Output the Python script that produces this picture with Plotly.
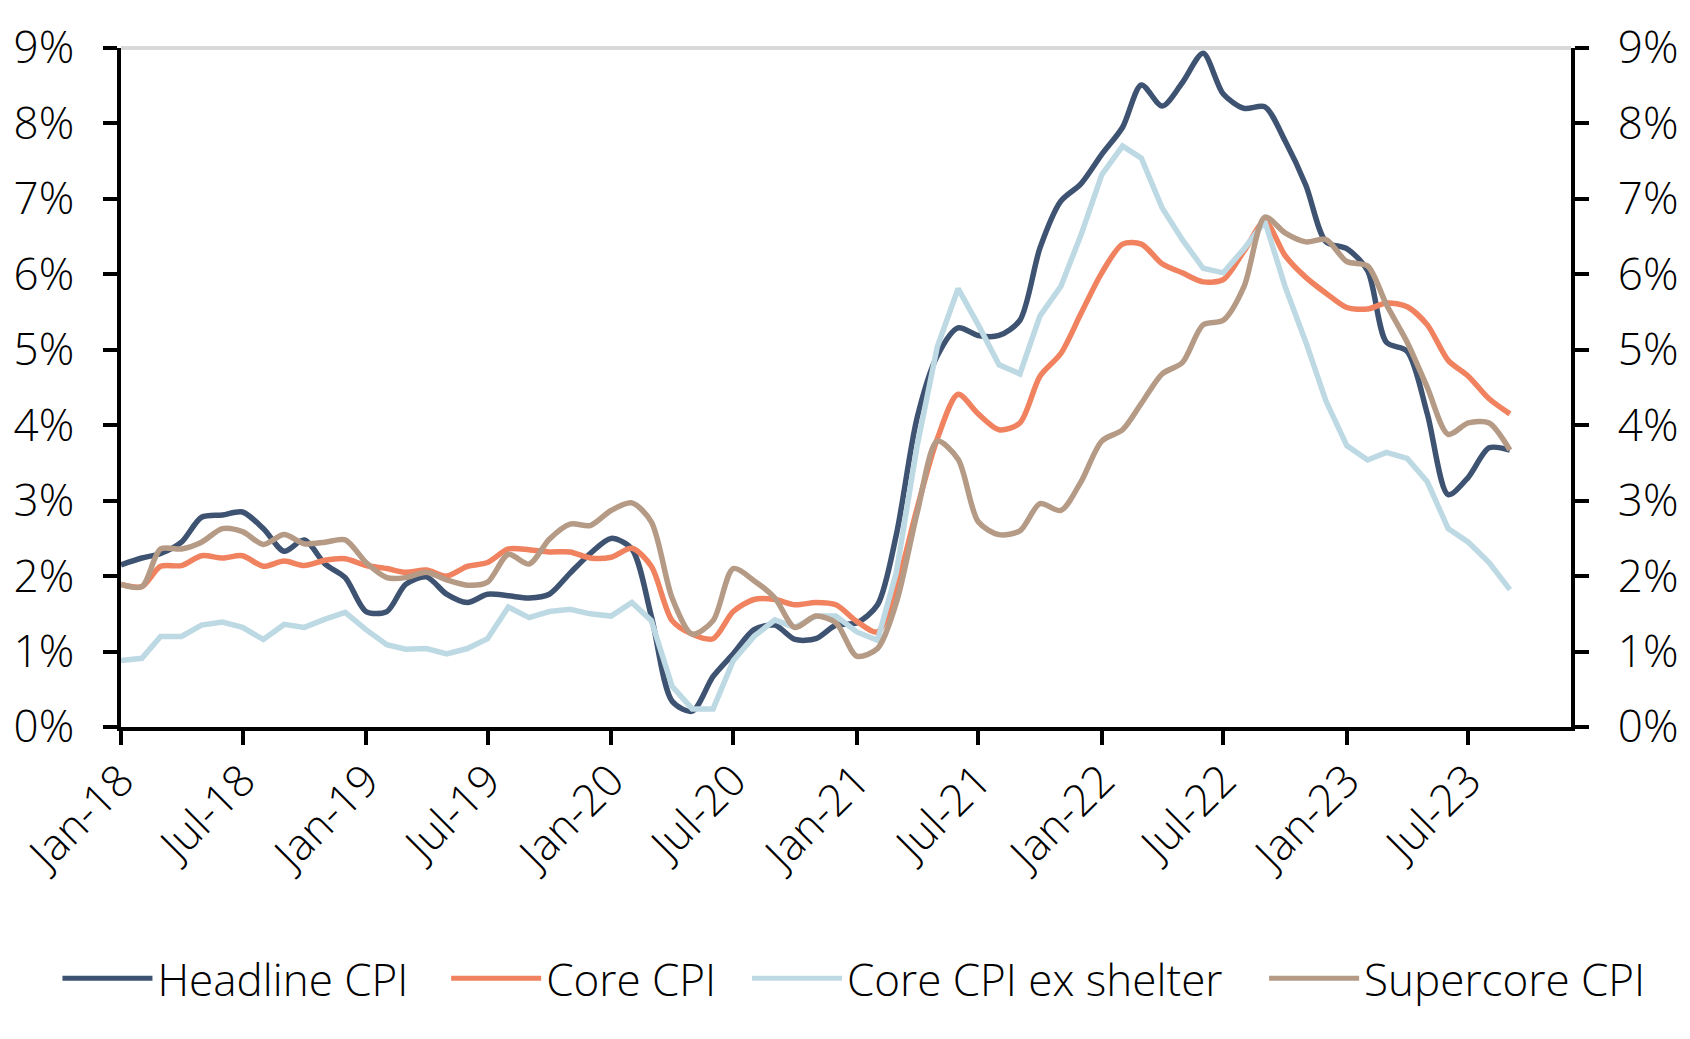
import pandas as pd
import plotly.graph_objects as go

months = pd.date_range("2018-01-01", periods=69, freq="MS")

headline = [2.15, 2.24, 2.30, 2.45, 2.78, 2.81, 2.85, 2.63, 2.33, 2.48, 2.16, 1.98,
            1.53, 1.53, 1.89, 1.99, 1.76, 1.65, 1.76, 1.74, 1.71, 1.76, 2.04, 2.30,
            2.50, 2.36, 1.47, 0.34, 0.21, 0.67, 0.97, 1.29, 1.35, 1.16, 1.17, 1.35,
            1.38, 1.62, 2.55, 4.10, 4.92, 5.29, 5.19, 5.19, 5.39, 6.35, 6.97, 7.20,
            7.59, 7.95, 8.51, 8.23, 8.54, 8.93, 8.39, 8.20, 8.22, 7.77, 7.18, 6.43,
            6.34, 6.05, 5.10, 4.98, 4.15, 3.08, 3.31, 3.70, 3.67]

core = [1.89, 1.86, 2.13, 2.14, 2.27, 2.24, 2.27, 2.13, 2.20, 2.14, 2.21, 2.23,
        2.14, 2.10, 2.05, 2.08, 2.00, 2.13, 2.18, 2.36, 2.35, 2.32, 2.32, 2.24,
        2.25, 2.37, 2.13, 1.41, 1.23, 1.17, 1.53, 1.69, 1.69, 1.62, 1.65, 1.62,
        1.40, 1.26, 1.85, 2.90, 3.82, 4.41, 4.15, 3.94, 4.03, 4.65, 4.95, 5.48,
        6.02, 6.40, 6.40, 6.14, 6.02, 5.90, 5.93, 6.31, 6.70, 6.25, 5.96, 5.75,
        5.56, 5.54, 5.62, 5.57, 5.33, 4.86, 4.65, 4.35, 4.15]

core_ex_shelter = [0.88, 0.91, 1.20, 1.20, 1.35, 1.39, 1.32, 1.16, 1.36, 1.32, 1.43, 1.52,
                   1.29, 1.09, 1.03, 1.04, 0.97, 1.04, 1.17, 1.59, 1.45, 1.53, 1.56, 1.50,
                   1.47, 1.65, 1.41, 0.54, 0.24, 0.24, 0.88, 1.20, 1.42, 1.32, 1.47, 1.47,
                   1.26, 1.15, 2.05, 3.73, 5.04, 5.81, 5.33, 4.80, 4.68, 5.45, 5.84, 6.52,
                   7.32, 7.70, 7.54, 6.88, 6.46, 6.08, 6.02, 6.34, 6.70, 5.84, 5.10, 4.32,
                   3.73, 3.54, 3.64, 3.56, 3.25, 2.63, 2.45, 2.18, 1.82]

supercore = [1.89, 1.86, 2.36, 2.36, 2.45, 2.63, 2.59, 2.42, 2.55, 2.43, 2.45, 2.48,
             2.18, 1.98, 1.98, 2.05, 1.95, 1.88, 1.92, 2.29, 2.16, 2.49, 2.69, 2.67,
             2.87, 2.97, 2.72, 1.71, 1.23, 1.41, 2.10, 1.94, 1.71, 1.32, 1.47, 1.38,
             0.94, 1.04, 1.65, 2.84, 3.79, 3.55, 2.72, 2.55, 2.60, 2.96, 2.87, 3.25,
             3.79, 3.94, 4.29, 4.68, 4.83, 5.33, 5.39, 5.84, 6.76, 6.55, 6.43, 6.46,
             6.17, 6.11, 5.60, 5.10, 4.50, 3.88, 4.03, 4.03, 3.67]

tick_dates = pd.date_range("2018-01-01", "2023-07-01", freq="6MS")
tick_labels = ["Jan-18", "Jul-18", "Jan-19", "Jul-19", "Jan-20", "Jul-20",
               "Jan-21", "Jul-21", "Jan-22", "Jul-22", "Jan-23", "Jul-23"]
y_ticks = list(range(0, 10))
y_labels = [f"{v}%" for v in y_ticks]

series = [
    ("Headline CPI", headline, "#3E5372", "spline"),
    ("Core CPI", core, "#F0825F", "spline"),
    ("Core CPI ex shelter", core_ex_shelter, "#BDD9E3", "linear"),
    ("Supercore CPI", supercore, "#B59A85", "spline"),
]
legend_names = ["legend", "legend2", "legend3", "legend4"]
legend_x = [0.034, 0.264, 0.442, 0.748]

FONT = "Open Sans, Lato, sans-serif"
tfont = dict(family=FONT, size=44, color="black", weight=300)

fig = go.Figure()
for (name, vals, color, shape), lg in zip(series, legend_names):
    fig.add_trace(go.Scatter(x=months, y=vals, name=name, mode="lines", legend=lg,
                             line=dict(color=color, width=5.5, shape=shape, smoothing=0.8)))
# invisible trace for the right axis
fig.add_trace(go.Scatter(x=[months[0]], y=[0], yaxis="y2", showlegend=False,
                         mode="lines", line=dict(width=0), hoverinfo="skip"))

axis_common = dict(showgrid=False, zeroline=False, showline=True, linecolor="black",
                   linewidth=4, ticks="outside", ticklen=14, tickwidth=4, tickcolor="black",
                   tickfont=tfont)

legends = {}
for lg, lx in zip(legend_names, legend_x):
    legends[lg] = dict(orientation="h", xref="container", yref="container",
                       x=lx, xanchor="left", y=0.058, yanchor="middle",
                       font=tfont, itemwidth=90, itemsizing="constant",
                       bgcolor="rgba(0,0,0,0)")

fig.update_layout(
    width=1690, height=1039,
    margin=dict(l=119, r=111, t=48, b=312),
    paper_bgcolor="white", plot_bgcolor="white",
    showlegend=True,
    xaxis=dict(type="date", range=["2018-01-01", "2023-12-01"],
               tickvals=list(tick_dates), ticktext=tick_labels, tickangle=-45,
               ticklabelstandoff=-8, **axis_common),
    yaxis=dict(range=[0, 9], tickvals=y_ticks, ticktext=y_labels,
               ticklabelstandoff=20, **axis_common),
    yaxis2=dict(range=[0, 9], tickvals=y_ticks, ticktext=y_labels, overlaying="y",
                side="right", ticklabelstandoff=20, **axis_common),
    shapes=[dict(type="line", xref="paper", yref="paper", x0=0, x1=1, y0=1, y1=1,
                 line=dict(color="#D9D9D9", width=4), layer="below")],
    **legends,
)

fig.write_html("out.html")
